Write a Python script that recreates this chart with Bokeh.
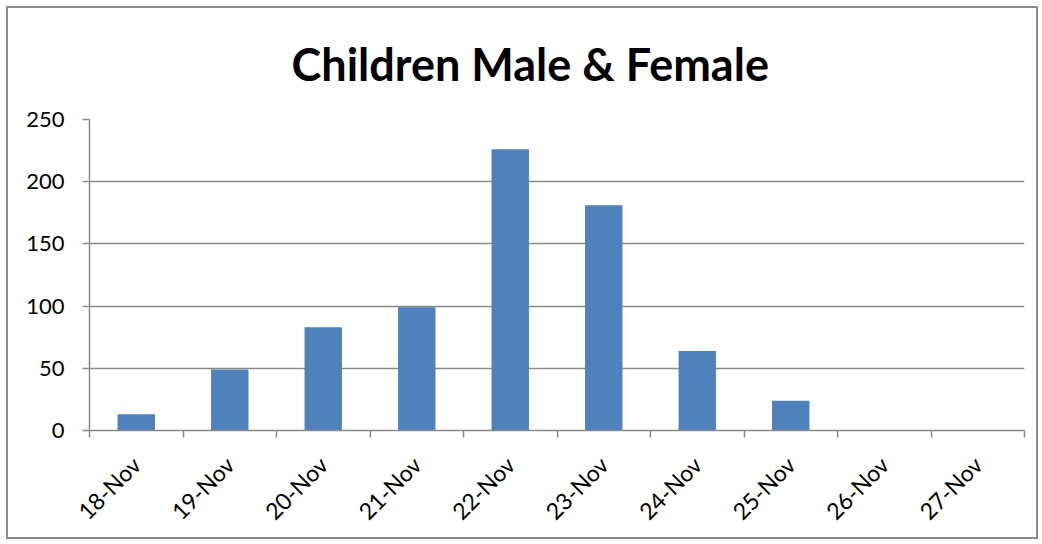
import numpy as np
from bokeh.plotting import figure
from bokeh.models import Range1d, FixedTicker, ColumnDataSource
from bokeh.embed import file_html
from bokeh.resources import INLINE

title = "Children Male & Female"
dates = ["18-Nov", "19-Nov", "20-Nov", "21-Nov", "22-Nov",
         "23-Nov", "24-Nov", "25-Nov", "26-Nov", "27-Nov"]
counts = [13, 49, 83, 99, 226, 181, 64, 24, 0, 0]
y_ticks = [0, 50, 100, 150, 200, 250]

n = len(dates)
centers = [i + 0.5 for i in range(n)]
src = ColumnDataSource(dict(x=centers, top=counts, label=dates))

FONT = "Lato"
GRAY = "#8a8a8a"

p = figure(width=1032, height=533, output_backend="svg", toolbar_location=None,
           x_range=Range1d(0, n), y_range=Range1d(0, 250),
           min_border_left=81, min_border_right=16,
           min_border_top=111, min_border_bottom=111)
p.styles = {"border": "2px solid #8c8c8c", "margin-left": "6px", "margin-top": "6px"}
p.outline_line_color = None
p.background_fill_color = "white"
p.border_fill_color = "white"

p.title.text = title
p.title.align = "left"
p.title.vertical_align = "top"
p.title.offset = 202
p.title.standoff = 54
p.title.text_font = FONT
p.title.text_font_style = "bold"
p.title.text_font_size = "45px"
p.title.text_color = "black"

p.vbar(x="x", top="top", width=0.4, source=src, fill_color="#4F81BD", line_color=None)

# x axis: labels at category centres, ticks at category boundaries
xa = p.xaxis[0]
xa.ticker = FixedTicker(ticks=centers, minor_ticks=list(range(n + 1)))
xa.major_label_overrides = {c: d for c, d in zip(centers, dates)}
xa.major_tick_line_color = None
xa.minor_tick_line_color = GRAY
xa.minor_tick_line_width = 1.5
xa.minor_tick_in = 0
xa.minor_tick_out = 7
xa.axis_line_color = GRAY
xa.axis_line_width = 1.5
xa.major_label_orientation = np.pi / 4
xa.major_label_text_font = FONT
xa.major_label_text_font_size = "23px"
xa.major_label_text_color = "black"
xa.major_label_standoff = 23

ya = p.yaxis[0]
ya.ticker = FixedTicker(ticks=y_ticks)
ya.major_tick_line_color = GRAY
ya.major_tick_line_width = 1.5
ya.major_tick_in = 0
ya.major_tick_out = 7
ya.minor_tick_line_color = None
ya.axis_line_color = GRAY
ya.axis_line_width = 1.5
ya.major_label_text_font = FONT
ya.major_label_text_font_size = "22px"
ya.major_label_text_color = "black"
ya.major_label_standoff = 18

p.xgrid.grid_line_color = None
p.ygrid.ticker = FixedTicker(ticks=y_ticks)
p.ygrid.grid_line_color = GRAY
p.ygrid.grid_line_width = 1.5

open("out.html", "w").write(file_html(p, INLINE))
